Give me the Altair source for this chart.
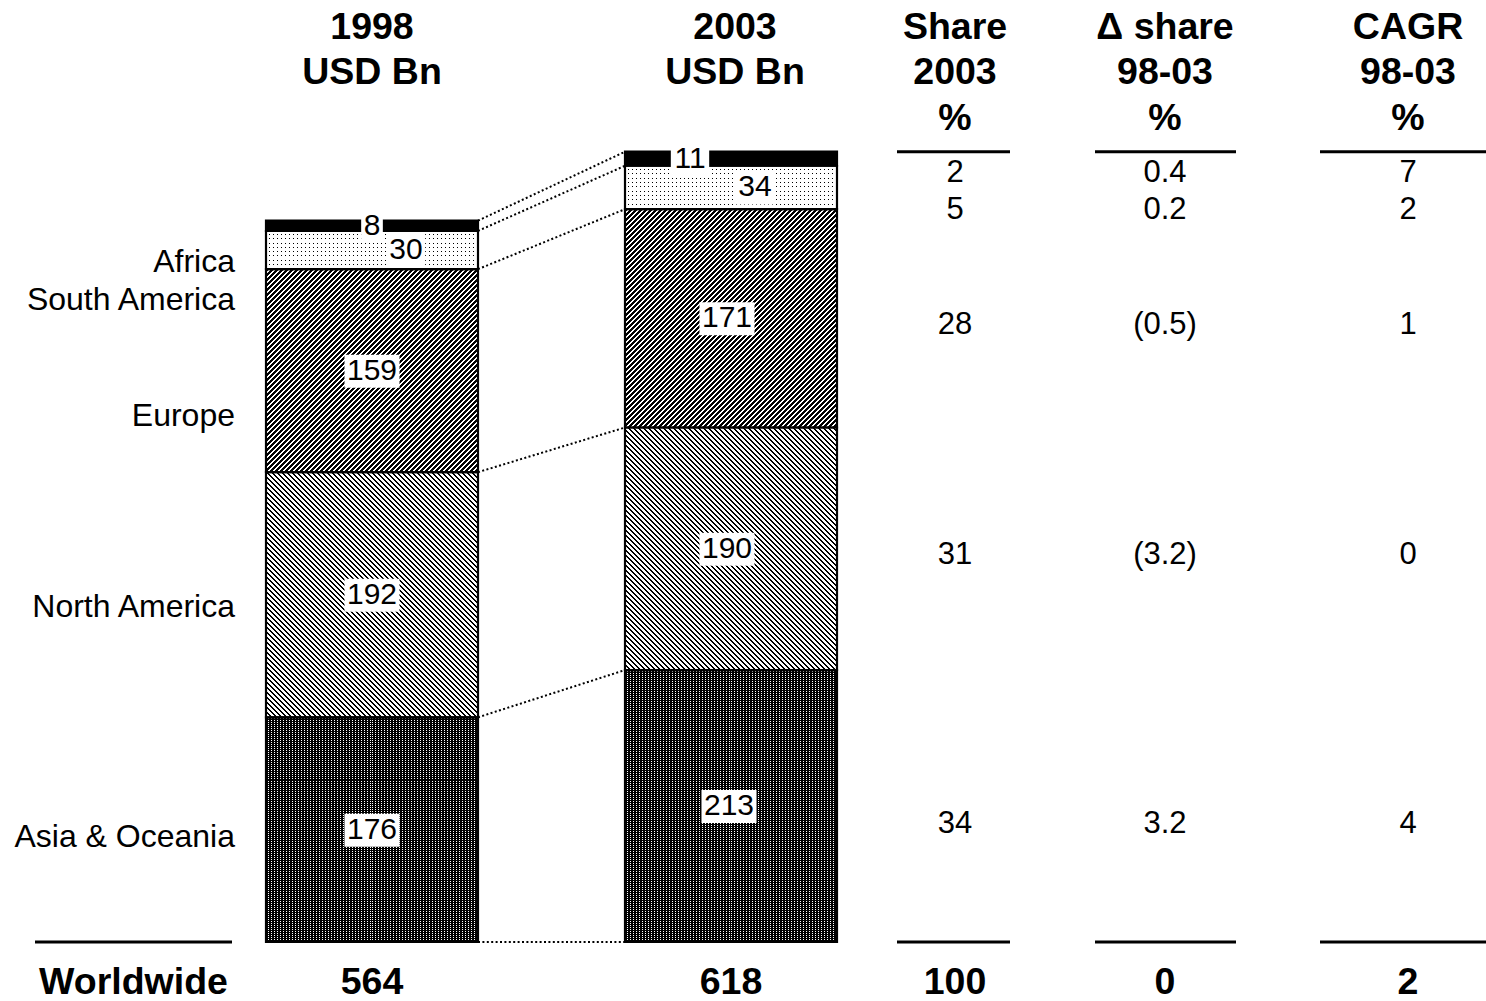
import math

import altair as alt
import pandas as pd

# ---------------------------------------------------------------- data
# Regions listed from the bottom of each stack to the top
regions = ["Asia & Oceania", "North America", "Europe", "South America", "Africa"]
usd_1998 = [176, 192, 159, 30, 8]
usd_2003 = [213, 190, 171, 34, 11]
share_2003 = [34, 31, 28, 5, 2]
delta_share = [3.2, -3.2, -0.5, 0.2, 0.4]
cagr = [4, 0, 1, 2, 7]

total_label = "Worldwide"
total_1998 = 564
total_2003 = 618
total_share = 100
total_delta = 0
total_cagr = 2

headers = [
    ["1998", "USD Bn"],
    ["2003", "USD Bn"],
    ["Share", "2003", "%"],
    ["Δ share", "98-03", "%"],
    ["CAGR", "98-03", "%"],
]

# ---------------------------------------------------------------- layout
W, H = 1486, 1001
BASE_PX = 942            # pixel row of the zero line
PX_PER_UNIT = 1.2767     # vertical pixels per USD Bn
FONT = "Liberation Sans, Arial, Helvetica, sans-serif"

BAR_HALF = 106
BAR_CENTER = {"1998": 372, "2003": 731}
COL_X = {"share": 955, "delta": 1165, "cagr": 1408}
LABEL_RIGHT = 235
HEADER_X = [372, 735, 955, 1165, 1408]
HEADER_LINE_PX = [28, 73, 119]
TOTAL_ROW_PX = 983
BOLD_FS = 37.5

# per-region tweaks (same order as regions), in pixels
side_label_nudge = [7, 12, 45, 50, 36]          # downward shift of left labels
table_row_nudge = [18, 6, 7, 23, 14]            # downward shift of table rows
value_label_dx = {"1998": [0, 0, 0, 34, 0], "2003": [-2, -4, -4, 24, -41]}

RULES_X = {"left": (35, 232), "share": (897, 1010), "delta": (1095, 1236), "cagr": (1320, 1486)}

y_lo = -(H - BASE_PX) / PX_PER_UNIT
y_hi = BASE_PX / PX_PER_UNIT


def px_to_units(px):
    return (BASE_PX - px) / PX_PER_UNIT


xs = alt.Scale(domain=[0, W], nice=False, zero=False)
ys = alt.Scale(domain=[y_lo, y_hi], nice=False, zero=False)


def X(f):
    return alt.X(f, type="quantitative", scale=xs, axis=None)


def Y(f):
    return alt.Y(f, type="quantitative", scale=ys, axis=None)


# ---------------------------------------------------------------- pattern fills
def stripe_stops(n, on, off, on_frac):
    stops = []
    for i in range(n):
        a, m, b = i / n, (i + on_frac) / n, (i + 1) / n
        stops += [
            {"offset": round(a, 6), "color": on},
            {"offset": round(m, 6), "color": on},
            {"offset": round(m, 6), "color": off},
            {"offset": round(b, 6), "color": off},
        ]
    return stops


def grid_stripes(length_px, period_px, on, off, vertical):
    """Parallel stripes whose gaps are exactly one pixel wide."""
    n = max(2, round(length_px / period_px))
    gap = 1.0 / (length_px / n)
    stops = stripe_stops(n, on, off, 1 - gap)
    if vertical:
        return {"gradient": "linear", "x1": 0, "y1": 0, "x2": 1, "y2": 0, "stops": stops}
    return {"gradient": "linear", "x1": 0, "y1": 0, "x2": 0, "y2": 1, "stops": stops}


def hatch(w, h, period_px, on_px, rising):
    """45-degree hatching with a whole-pixel period, for a w x h box."""
    n = math.ceil((w + h) / period_px)
    span = n * period_px                  # extent of x+y (or x-y) covered by the stops
    a = span * w / (w * w + h * h)
    b = a * h / w
    stops = stripe_stops(n, "black", "white", on_px / period_px)
    if rising:   # "/" lines
        return {"gradient": "linear", "x1": 0, "y1": 0, "x2": a, "y2": b, "stops": stops}
    return {"gradient": "linear", "x1": 0, "y1": 1, "x2": a, "y2": 1 - b, "stops": stops}


CLEAR_W = "rgba(255,255,255,0)"
CLEAR_K = "rgba(0,0,0,0)"

# ---------------------------------------------------------------- segments
seg_rows = []
for year, vals in (("1998", usd_1998), ("2003", usd_2003)):
    cum = 0
    for i, (r, v) in enumerate(zip(regions, vals)):
        seg_rows.append(dict(
            year=year, region=r, idx=i, value=v, y0=cum, y1=cum + v, ymid=cum + v / 2,
            x0=BAR_CENTER[year] - BAR_HALF, x1=BAR_CENTER[year] + BAR_HALF,
        ))
        cum += v
segs = pd.DataFrame(seg_rows)


def rect_layer(df, **mark):
    return alt.Chart(df).mark_rect(**mark).encode(x=X("x0"), x2="x1", y=Y("y0"), y2="y1")


layers = []
for _, s in segs.iterrows():
    one = pd.DataFrame([s])
    w_px = s.x1 - s.x0
    h_px = s.value * PX_PER_UNIT
    if s.region == "Africa":
        layers.append(rect_layer(one, fill="black"))
    elif s.region == "Europe":
        layers.append(rect_layer(one, fill=hatch(w_px, h_px, 5, 3, True)))
    elif s.region == "North America":
        layers.append(rect_layer(one, fill=hatch(w_px, h_px, 5, 2, False)))
    elif s.region == "South America":
        layers.append(rect_layer(one, fill="black"))
        layers.append(rect_layer(one, fill=grid_stripes(w_px, 4.0, "white", CLEAR_W, True)))
        layers.append(rect_layer(one, fill=grid_stripes(h_px, 4.4, "white", CLEAR_W, False)))
    else:  # Asia & Oceania
        layers.append(rect_layer(one, fill="white"))
        layers.append(rect_layer(one, fill=grid_stripes(w_px, 3.0, "black", CLEAR_K, True)))
        layers.append(rect_layer(one, fill=grid_stripes(h_px, 2.0, "black", CLEAR_K, False)))

# segment outlines
layers.append(rect_layer(segs, fill="white", fillOpacity=0, stroke="black", strokeWidth=2.2))

# ---------------------------------------------------------------- connectors between the bars
bounds_98 = [0] + list(pd.Series(usd_1998).cumsum())
bounds_03 = [0] + list(pd.Series(usd_2003).cumsum())
conn = pd.DataFrame({
    "xa": BAR_CENTER["1998"] + BAR_HALF, "xb": BAR_CENTER["2003"] - BAR_HALF,
    "ya": bounds_98, "yb": bounds_03,
})
layers.append(
    alt.Chart(conn).mark_rule(color="black", strokeWidth=2, strokeDash=[2, 2.4])
    .encode(x=X("xa"), x2="xb", y=Y("ya"), y2="yb")
)

# ---------------------------------------------------------------- value labels with white boxes
LBL_FS = 30
lab = segs.copy()
lab["xc"] = [BAR_CENTER[r.year] + value_label_dx[r.year][r.idx] for r in lab.itertuples()]
lab["txt"] = lab["value"].astype(str)
half_w = (lab["txt"].str.len() * 0.556 * LBL_FS + 5) / 2
lab["bx0"] = lab["xc"] - half_w
lab["bx1"] = lab["xc"] + half_w
lab["by0"] = lab["ymid"] - 17 / PX_PER_UNIT
lab["by1"] = lab["ymid"] + 16 / PX_PER_UNIT
layers.append(
    alt.Chart(lab).mark_rect(fill="white")
    .encode(x=X("bx0"), x2="bx1", y=Y("by0"), y2="by1")
)
layers.append(
    alt.Chart(lab).mark_text(font=FONT, fontSize=LBL_FS, color="black", align="center", baseline="middle")
    .encode(x=X("xc"), y=Y("ymid"), text="txt:N")
)

# ---------------------------------------------------------------- region names on the left
seg98 = segs[segs.year == "1998"].reset_index(drop=True)
side = pd.DataFrame({
    "region": regions,
    "x": LABEL_RIGHT,
    "y": [m - d / PX_PER_UNIT for m, d in zip(seg98["ymid"], side_label_nudge)],
})
layers.append(
    alt.Chart(side).mark_text(font=FONT, fontSize=32, color="black", align="right", baseline="middle")
    .encode(x=X("x"), y=Y("y"), text="region:N")
)

# ---------------------------------------------------------------- table columns
def fmt_delta(v):
    return f"({abs(v):.1f})" if v < 0 else f"{v:.1f}"


seg03 = segs[segs.year == "2003"].reset_index(drop=True)
row_y = [m - d / PX_PER_UNIT for m, d in zip(seg03["ymid"], table_row_nudge)]
tab_rows = []
for i in range(len(regions)):
    tab_rows.append(dict(x=COL_X["share"], y=row_y[i], txt=str(share_2003[i])))
    tab_rows.append(dict(x=COL_X["delta"], y=row_y[i], txt=fmt_delta(delta_share[i])))
    tab_rows.append(dict(x=COL_X["cagr"], y=row_y[i], txt=str(cagr[i])))
layers.append(
    alt.Chart(pd.DataFrame(tab_rows)).mark_text(font=FONT, fontSize=31, color="black", align="center", baseline="middle")
    .encode(x=X("x"), y=Y("y"), text="txt:N")
)

# ---------------------------------------------------------------- horizontal rules
top_03 = bounds_03[-1]
rule_rows = [dict(xa=RULES_X["left"][0], xb=RULES_X["left"][1], y=0)]
for c in ("share", "delta", "cagr"):
    rule_rows.append(dict(xa=RULES_X[c][0], xb=RULES_X[c][1], y=0))
    rule_rows.append(dict(xa=RULES_X[c][0], xb=RULES_X[c][1], y=top_03))
layers.append(
    alt.Chart(pd.DataFrame(rule_rows)).mark_rule(color="black", strokeWidth=3)
    .encode(x=X("xa"), x2="xb", y=Y("y"))
)

# ---------------------------------------------------------------- column headers
hdr_rows = []
for hx, lines in zip(HEADER_X, headers):
    for j, t in enumerate(lines):
        hdr_rows.append(dict(x=hx, y=px_to_units(HEADER_LINE_PX[j]), txt=t))
layers.append(
    alt.Chart(pd.DataFrame(hdr_rows)).mark_text(font=FONT, fontSize=BOLD_FS, fontWeight="bold", color="black",
                                                 align="center", baseline="middle")
    .encode(x=X("x"), y=Y("y"), text="txt:N")
)

# ---------------------------------------------------------------- totals row
tot = pd.DataFrame({
    "x": [sum(RULES_X["left"]) / 2, BAR_CENTER["1998"], BAR_CENTER["2003"], COL_X["share"], COL_X["delta"], COL_X["cagr"]],
    "y": px_to_units(TOTAL_ROW_PX),
    "txt": [total_label, str(total_1998), str(total_2003), str(total_share), str(total_delta), str(total_cagr)],
})
layers.append(
    alt.Chart(tot).mark_text(font=FONT, fontSize=BOLD_FS, fontWeight="bold", color="black", align="center", baseline="middle")
    .encode(x=X("x"), y=Y("y"), text="txt:N")
)

chart = (
    alt.layer(*layers)
    .properties(width=W, height=H, padding=0, autosize=alt.AutoSizeParams(type="none"), background="white")
    .configure_view(stroke=None)
)

chart.save("out.html", embed_options={"renderer": "svg", "actions": False})
